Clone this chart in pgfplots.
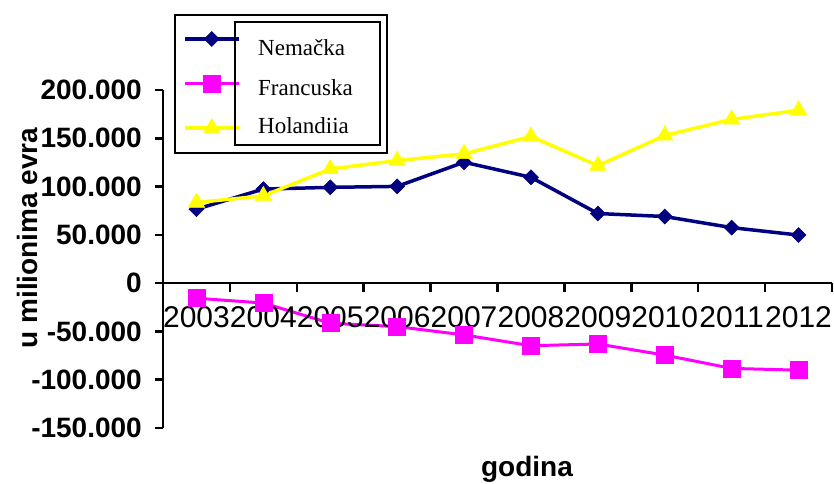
\documentclass[border=0pt]{standalone}
\usepackage{fontspec}
\setmainfont{Liberation Sans}
\newfontfamily\serif{Liberation Serif}
\usepackage{pgfplots}
\pgfplotsset{compat=1.18}
\definecolor{navyc}{RGB}{0,0,128}
\definecolor{magc}{RGB}{255,0,255}
\definecolor{yelc}{RGB}{255,255,0}
\begin{document}
\begin{tikzpicture}
\useasboundingbox (-163pt,-55pt) rectangle (671pt,428pt);
\begin{axis}[
  at={(0pt,0pt)}, anchor=south west,
  scale only axis, width=669pt, height=338pt,
  xmin=0.5, xmax=10.5, ymin=-150000, ymax=200000,
  axis y line*=left, axis x line*=middle,
  axis line style={line width=2.5pt,-},
  every inner x axis line/.append style={-},
  axis on top,
  scaled y ticks=false,
  tick align=outside,
  major tick length=8pt,
  tick style={line width=2.5pt,black},
  xtick={1,...,10},
  x tick style={draw=none},
  xticklabels={2003,2004,2005,2006,2007,2008,2009,2010,2011,2012},
  ytick={-150000,-100000,-50000,0,50000,100000,150000,200000},
  yticklabels={-150.000,-100.000,-50.000,0,50.000,100.000,150.000,200.000},
  xticklabel style={font=\fontsize{30}{32}\selectfont, inner sep=0pt, yshift=-15pt},
  yticklabel style={font=\fontsize{28}{30}\selectfont\bfseries, inner sep=0pt, xshift=-13pt},
  xlabel={godina}, ylabel={u milionima evra},
  every axis x label/.style={at={(axis description cs:0.544,-0.142)}, anchor=base, font=\fontsize{28}{30}\selectfont\bfseries},
  every axis y label/.style={at={(axis description cs:-0.2033,0.562)}, anchor=center, rotate=90, font=\fontsize{28}{30}\selectfont\bfseries},
  clip=false,
  legend style={draw=none, fill=none, at={(axis description cs:0.0299,1.1805)}, anchor=north west, inner sep=0pt, outer sep=0pt, row sep=24.5pt, nodes={inner sep=0pt, outer sep=0pt}},
  legend image code/.code={\path[draw=none,fill=none] (0pt,-10pt) rectangle (54pt,10pt); \draw[mark repeat=2,mark phase=2] plot coordinates {(0pt,0pt) (27pt,0pt) (54pt,0pt)};},
]
\addplot[color=navyc, line width=3.5pt, mark=square*, mark size=5.3pt, mark options={rotate=45, line width=0.5pt, fill=navyc}]
  coordinates {(1,76600) (2,97400) (3,99200) (4,100200) (5,125200) (6,109600) (7,72100) (8,69000) (9,57500) (10,49800)};
\addlegendentry{}
\addplot[color=magc, line width=3pt, mark=square*, mark size=8.5pt, mark options={line width=0.5pt, fill=magc}]
  coordinates {(1,-15600) (2,-20600) (3,-41500) (4,-45000) (5,-53600) (6,-64800) (7,-63000) (8,-74500) (9,-88300) (10,-90100)};
\addlegendentry{}
\addplot[color=yelc, line width=3.5pt, mark=triangle*, mark size=9.5pt, mark options={line width=0.5pt, fill=yelc}]
  coordinates {(1,83500) (2,90400) (3,118200) (4,126900) (5,133900) (6,151900) (7,121700) (8,152900) (9,169600) (10,179000)};
\addlegendentry{}
\pgfplotsinvokeforeach{0.5,1.5,2.5,3.5,4.5,5.5,6.5,7.5,8.5,9.5,10.5}{
  \draw[line width=2.5pt,black] (axis cs:#1,0) -- ++(0pt,-9pt);
}
\end{axis}
\draw[line width=2pt] (12pt,275pt) rectangle (224pt,413pt);
\draw[line width=2pt] (72pt,283pt) rectangle (217pt,406pt);
\begin{scope}[every node/.style={anchor=base west, inner sep=0pt, font=\serif\fontsize{23}{25}\selectfont}]
\node at (95pt,372pt) {Nemačka};
\node at (95pt,333pt) {Francuska};
\node at (95pt,295pt) {Holandiia};
\end{scope}
\end{tikzpicture}
\end{document}
